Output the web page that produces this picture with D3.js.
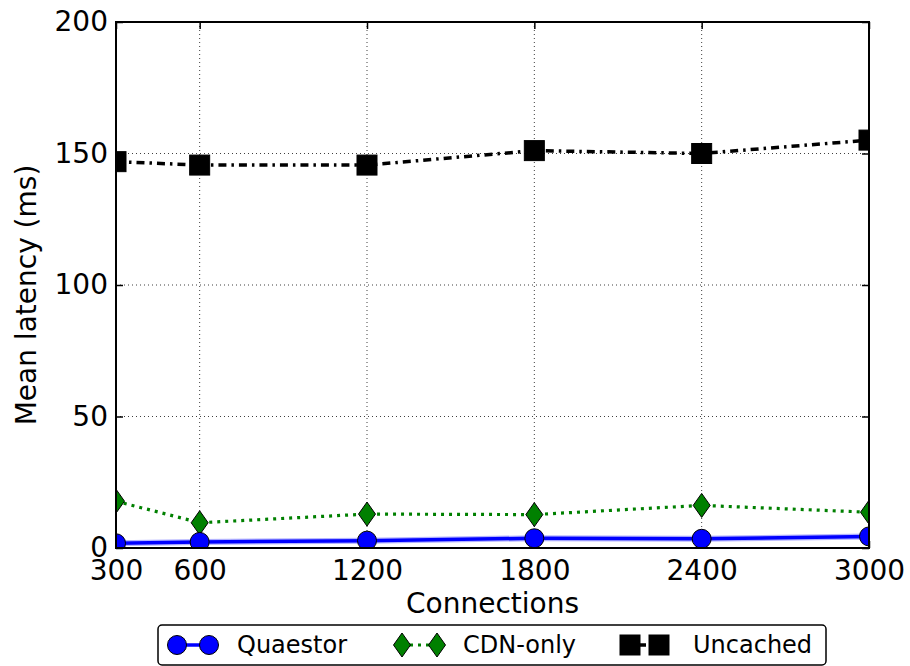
<!DOCTYPE html>
<html>
<head>
<meta charset="utf-8">
<script src="https://cdn.jsdelivr.net/npm/d3@7/dist/d3.min.js"></script>
<style>
  html, body { margin: 0; padding: 0; background: #fff; }
  svg { display: block; font-family: "DejaVu Sans", sans-serif; }
</style>
</head>
<body>
<svg id="chart" width="910" height="666"></svg>
<script>
// Mean latency per connection count for three caching setups
const connections = [300, 600, 1200, 1800, 2400, 3000];
const quaestor = [1.8, 2.3, 2.8, 3.7, 3.5, 4.4];
const cdnOnly = [17.8, 9.6, 12.9, 12.7, 16.2, 13.6];
const uncached = [146.9, 145.6, 145.6, 151.1, 150.0, 155.1];
const xTicks = [300, 600, 1200, 1800, 2400, 3000];
const yTicks = [0, 50, 100, 150, 200];
const seriesNames = ["Quaestor", "CDN-only", "Uncached"];

const svg = d3.select("#chart");
const plot = { left: 116, right: 869, top: 22, bottom: 548 };

const x = d3.scaleLinear().domain([300, 3000]).range([plot.left, plot.right]);
const y = d3.scaleLinear().domain([0, 200]).range([plot.bottom, plot.top]);
const fmt = d3.format("d");

svg.append("defs").append("clipPath").attr("id", "plotClip")
  .append("rect")
  .attr("x", plot.left).attr("y", plot.top)
  .attr("width", plot.right - plot.left).attr("height", plot.bottom - plot.top);

// dotted grid
const grid = svg.append("g").attr("stroke", "#000").attr("stroke-width", 1)
  .attr("stroke-dasharray", "1,3").attr("opacity", 0.75);
xTicks.forEach(t => grid.append("line")
  .attr("x1", x(t)).attr("x2", x(t)).attr("y1", plot.top).attr("y2", plot.bottom));
yTicks.forEach(t => grid.append("line")
  .attr("x1", plot.left).attr("x2", plot.right).attr("y1", y(t)).attr("y2", y(t)));

// axes: labels outside, ticks pointing inward on all four sides
const tickLen = 7;
const axBottom = svg.append("g").attr("transform", `translate(0,${plot.bottom})`)
  .call(d3.axisBottom(x).tickValues(xTicks).tickFormat(fmt).tickSizeInner(-tickLen).tickSizeOuter(0).tickPadding(12));
const axTop = svg.append("g").attr("transform", `translate(0,${plot.top})`)
  .call(d3.axisTop(x).tickValues(xTicks).tickSizeInner(-tickLen).tickSizeOuter(0).tickFormat(""));
const axLeft = svg.append("g").attr("transform", `translate(${plot.left},0)`)
  .call(d3.axisLeft(y).tickValues(yTicks).tickFormat(fmt).tickSizeInner(-tickLen).tickSizeOuter(0).tickPadding(8));
const axRight = svg.append("g").attr("transform", `translate(${plot.right},0)`)
  .call(d3.axisRight(y).tickValues(yTicks).tickSizeInner(-tickLen).tickSizeOuter(0).tickFormat(""));
[axBottom, axTop, axLeft, axRight].forEach(a => {
  a.select(".domain").remove();
  a.selectAll(".tick line").attr("stroke", "#000").attr("stroke-width", 1.5);
  a.selectAll("text").attr("font-size", 28).attr("fill", "#000")
    .attr("font-family", "DejaVu Sans, sans-serif");
});
axBottom.selectAll("text").attr("dy", "0.71em");

const clipped = svg.append("g").attr("clip-path", "url(#plotClip)");
const pts = vals => connections.map((c, i) => [x(c), y(vals[i])]);
const line = d3.line();

// Uncached: black dash-dot
clipped.append("path").attr("d", line(pts(uncached)))
  .attr("fill", "none").attr("stroke", "#000").attr("stroke-width", 3.5)
  .attr("stroke-dasharray", "8,5,2.5,5");
// CDN-only: green dotted
clipped.append("path").attr("d", line(pts(cdnOnly)))
  .attr("fill", "none").attr("stroke", "#008000").attr("stroke-width", 3.2)
  .attr("stroke-dasharray", "3,5");
// Quaestor: solid blue
clipped.append("path").attr("d", line(pts(quaestor)))
  .attr("fill", "none").attr("stroke", "#0000ff").attr("stroke-width", 6).attr("opacity", 0.3);
clipped.append("path").attr("d", line(pts(quaestor)))
  .attr("fill", "none").attr("stroke", "#0000ff").attr("stroke-width", 3.5);

// marker shapes
const square = (g, cx, cy) => g.append("rect")
  .attr("x", cx - 10).attr("y", cy - 10).attr("width", 20).attr("height", 20)
  .attr("fill", "#000").attr("stroke", "#000").attr("stroke-width", 1);
const diamond = (g, cx, cy) => g.append("path")
  .attr("d", `M${cx},${cy - 12}L${cx + 8.5},${cy}L${cx},${cy + 12}L${cx - 8.5},${cy}Z`)
  .attr("fill", "#008000").attr("stroke", "#000").attr("stroke-width", 1);
const circle = (g, cx, cy) => g.append("circle")
  .attr("cx", cx).attr("cy", cy).attr("r", 9.5)
  .attr("fill", "#0000ff").attr("stroke", "#000").attr("stroke-width", 1);

pts(uncached).forEach(p => square(clipped, p[0], p[1]));
pts(cdnOnly).forEach(p => diamond(clipped, p[0], p[1]));
pts(quaestor).forEach(p => circle(clipped, p[0], p[1]));

// frame
svg.append("rect")
  .attr("x", plot.left).attr("y", plot.top)
  .attr("width", plot.right - plot.left).attr("height", plot.bottom - plot.top)
  .attr("fill", "none").attr("stroke", "#000").attr("stroke-width", 2);

// axis titles
svg.append("text")
  .attr("x", (plot.left + plot.right) / 2).attr("y", 613)
  .attr("text-anchor", "middle").attr("font-size", 28).text("Connections");
svg.append("text")
  .attr("transform", `translate(36,${(plot.top + plot.bottom) / 2 + 10}) rotate(-90)`)
  .attr("text-anchor", "middle").attr("font-size", 28).text("Mean latency (ms)");

// legend
const lg = svg.append("g");
lg.append("rect")
  .attr("x", 158).attr("y", 625).attr("width", 668).attr("height", 40)
  .attr("rx", 4).attr("fill", "#fff").attr("stroke", "#000").attr("stroke-width", 1.5);
const legendY = 645;
const entries = [
  { x0: 177, x1: 209, tx: 237, draw: circle, color: "#0000ff", dash: null, w: 3.5 },
  { x0: 402, x1: 437, tx: 463, draw: diamond, color: "#008000", dash: "3,5", w: 3.2 },
  { x0: 630, x1: 659, tx: 693, draw: square, color: "#000", dash: "8,5,2.5,5", w: 3.5 }
];
entries.forEach((e, i) => {
  const l = lg.append("line")
    .attr("x1", e.x0).attr("x2", e.x1).attr("y1", legendY).attr("y2", legendY)
    .attr("stroke", e.color).attr("stroke-width", e.w);
  if (e.dash) l.attr("stroke-dasharray", e.dash).attr("stroke-dashoffset", -8);
  e.draw(lg, e.x0, legendY);
  e.draw(lg, e.x1, legendY);
  lg.append("text").attr("x", e.tx).attr("y", legendY).attr("dy", "0.35em")
    .attr("font-size", 24).text(seriesNames[i]);
});
</script>
</body>
</html>
